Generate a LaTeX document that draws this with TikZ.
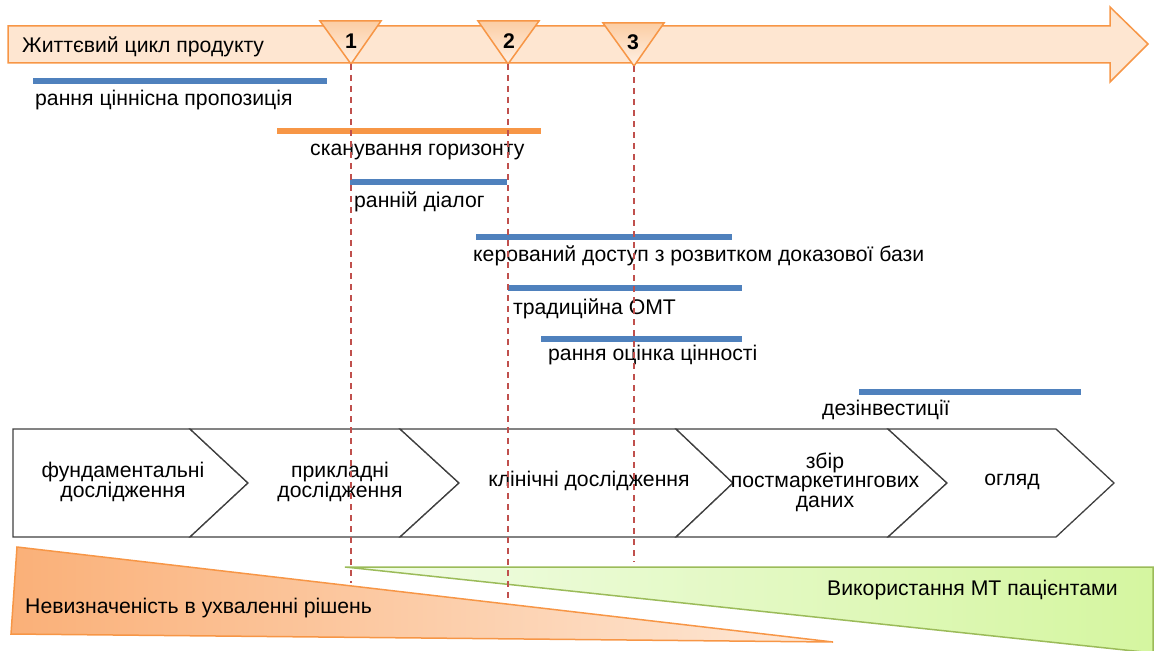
\documentclass[tikz,border=0pt]{standalone}
\usepackage{fontspec}
\setmainfont{Liberation Sans}
\definecolor{barblue}{HTML}{4F81BD}
\definecolor{barorange}{HTML}{F79646}
\definecolor{guidered}{HTML}{C0504D}
\definecolor{chevgray}{HTML}{404040}
\definecolor{arrowlight}{HTML}{FDDCBD}
\definecolor{arrowmid}{HTML}{FBB97E}
\definecolor{mstop}{HTML}{FCCDA3}
\definecolor{msbottom}{HTML}{FEF1E6}
\definecolor{unclight}{HTML}{FEE9D8}
\definecolor{uncdark}{HTML}{FAB078}
\definecolor{greenlight}{HTML}{F1FCE6}
\definecolor{greendark}{HTML}{D5F6A0}
\definecolor{greenedge}{HTML}{9BBB59}
\newcommand\lblfont{\fontsize{21.2}{19.5}\selectfont}
\begin{document}
\begin{tikzpicture}[x=1pt,y=-1pt,
  bar/.style={line width=6.5pt, draw=barblue},
  lbl/.style={inner sep=0pt, anchor=base west, font=\lblfont},
  stagebox/.style={draw=chevgray, line width=1.3pt, fill=white, line join=miter},
  stagetext/.style={inner sep=0pt, align=center, font=\lblfont},
  milestone/.style={draw=barorange, line width=1.5pt, top color=mstop, bottom color=msbottom},
  guide/.style={draw=guidered, line width=1.8pt, dash pattern=on 6pt off 5pt},
  bigarrow/.style={draw=barorange, line width=1.5pt, top color=arrowlight!70!white, middle color=arrowmid, bottom color=arrowlight!70!white}
]
\useasboundingbox (0,0) rectangle (1155,650);

% life cycle arrow
\path[bigarrow] (8,26) -- (1110,26) -- (1110,7) -- (1148,44) -- (1110,82) -- (1110,63) -- (8,63) -- cycle;
\node[lbl] (lc) at (22,53) {Життєвий цикл продукту};

% bottom wedges
\path[draw=barorange, line width=1.5pt, left color=uncdark, right color=unclight]
  (17,547) -- (833,642) -- (11,634) -- cycle;
\path[draw=greenedge, line width=1.5pt, left color=greenlight, right color=greendark]
  (345,567) -- (1153,567) -- (1153,653) -- cycle;
\node[lbl] (unc) at (25,613) {Невизначеність в ухваленні рішень};
\node[lbl] (use) at (827,595) {Використання МТ пацієнтами};

% stages
\path[stagebox] (13,429) -- (190,429) -- (248,483) -- (190,537) -- (13,537) -- cycle;
\path[stagebox] (190,429) -- (400,429) -- (459,483) -- (400,537) -- (190,537) -- (248,483) -- cycle;
\path[stagebox] (400,429) -- (676,429) -- (733,483) -- (676,537) -- (400,537) -- (459,483) -- cycle;
\path[stagebox] (676,429) -- (888,429) -- (947,483) -- (888,537) -- (676,537) -- (733,483) -- cycle;
\path[stagebox] (888,429) -- (1056,429) -- (1114,483) -- (1056,537) -- (888,537) -- (947,483) -- cycle;
\node[stagetext] (s1) at (123,482) {фундаментальні\\дослідження};
\node[stagetext] (s2) at (340,482) {прикладні\\дослідження};
\node[stagetext] (s3) at (589,481) {клінічні дослідження};
\node[stagetext] (s4) at (825,482) {збір\\постмаркетингових\\даних};
\node[stagetext] (s5) at (1012,482) {огляд};

% bars
\draw[bar] (33,81) -- (327,81);
\node[lbl] (b1) at (35,106) {рання ціннісна пропозиція};
\draw[bar, draw=barorange] (277,131) -- (541,131);
\node[lbl] (b2) at (310,155) {сканування горизонту};
\draw[bar] (350,182) -- (507,182);
\node[lbl] (b3) at (354,207) {ранній діалог};
\draw[bar] (476,237) -- (732,237);
\node[lbl] (b4) at (473,261) {керований доступ з розвитком доказової бази};
\draw[bar] (508,288) -- (742,288);
\node[lbl] (b5) at (513,314) {традиційна ОМТ};
\draw[bar] (541,339) -- (742,339);
\node[lbl] (b6) at (548,360) {рання оцінка цінності};
\draw[bar] (859,392) -- (1081,392);
\node[lbl] (b7) at (822,415) {дезінвестиції};

% milestones
\path[milestone] (320,21) -- (381,21) -- (351,64) -- cycle;
\path[milestone] (478,21) -- (539,21) -- (508,64) -- cycle;
\path[milestone] (603,23) -- (664,23) -- (634,66) -- cycle;
\coordinate (t1) at (351,64);
\coordinate (t2) at (508,64);
\coordinate (t3) at (634,66);
\node[inner sep=0pt, anchor=base, font=\lblfont\bfseries] (m1) at (351,49) {1};
\node[inner sep=0pt, anchor=base, font=\lblfont\bfseries] (m2) at (509,49) {2};
\node[inner sep=0pt, anchor=base, font=\lblfont\bfseries] (m3) at (633,50) {3};

% guide lines
\coordinate (e1) at (351,583);
\coordinate (e2) at (508,598);
\coordinate (e3) at (634,562);
\draw[guide] (t1) -- (e1);
\draw[guide] (t2) -- (e2);
\draw[guide] (t3) -- (e3);
\end{tikzpicture}
\end{document}
